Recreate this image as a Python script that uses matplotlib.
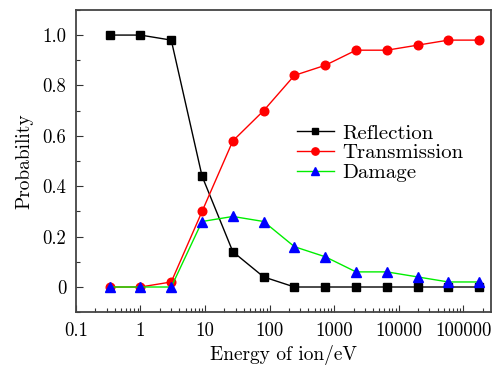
import matplotlib
matplotlib.use("Agg")
import matplotlib.pyplot as plt
from matplotlib.ticker import FixedLocator, LogLocator, MultipleLocator, NullFormatter

plt.rcParams['font.family'] = ['cmr10', 'DejaVu Serif']
plt.rcParams['axes.formatter.use_mathtext'] = True

# Ion energies (eV), factor-of-3 steps
energy = [0.333, 1, 3, 9, 27, 81, 243, 729, 2187, 6561, 19683, 59049, 177147]
reflection = [1.0, 1.0, 0.98, 0.44, 0.14, 0.04, 0, 0, 0, 0, 0, 0, 0]
transmission = [0, 0, 0.02, 0.30, 0.58, 0.70, 0.84, 0.88, 0.94, 0.94, 0.96, 0.98, 0.98]
damage = [0, 0, 0, 0.26, 0.28, 0.26, 0.16, 0.12, 0.06, 0.06, 0.04, 0.02, 0.02]

xticks = [0.1, 1, 10, 100, 1000, 10000, 100000]
xtick_labels = ['0.1', '1', '10', '100', '1000', '10000', '100000']
yticks = [0, 0.2, 0.4, 0.6, 0.8, 1.0]
ytick_labels = ['0', '0.2', '0.4', '0.6', '0.8', '1.0']

fig = plt.figure(figsize=(4.93, 3.66), dpi=100)
ax = fig.add_axes([0.154, 0.147, 0.842, 0.826])

ax.plot(energy, reflection, color='black', lw=1, marker='s', ms=5.2,
        mfc='black', mec='black', label='Reflection')
ax.plot(energy, transmission, color='red', lw=1, marker='o', ms=6.2,
        mfc='red', mec='red', label='Transmission')
ax.plot(energy, damage, color='#00ee00', lw=1, marker='^', ms=6.8,
        mfc='blue', mec='blue', label='Damage')

ax.set_xscale('log')
ax.set_xlim(0.1, 2.7e5)
ax.set_ylim(-0.1, 1.1)

ax.xaxis.set_major_locator(FixedLocator(xticks))
ax.set_xticklabels(xtick_labels)
ax.xaxis.set_minor_locator(LogLocator(base=10, subs=range(2, 10), numticks=20))
ax.xaxis.set_minor_formatter(NullFormatter())
ax.set_yticks(yticks)
ax.set_yticklabels(ytick_labels)
ax.yaxis.set_minor_locator(MultipleLocator(0.1))

ax.tick_params(which='major', direction='in', length=5, width=0.8, labelsize=13.5,
               colors='#333333', labelcolor='black', pad=7)
ax.tick_params(which='minor', direction='in', length=3, width=0.8, colors='#333333')
ax.tick_params(top=False, right=False, which='both')

for side in ax.spines.values():
    side.set_color('#444444')
    side.set_linewidth(1.3)

ax.set_xlabel('Energy of ion/eV', fontsize=14, labelpad=4)
ax.set_ylabel('Probability', fontsize=14, labelpad=6)

ax.legend(loc='upper left', bbox_to_anchor=(0.513, 0.65), frameon=False, fontsize=15,
          handlelength=1.75, handletextpad=0.4, labelspacing=0.05, borderaxespad=0,
          markerscale=0.85)

fig.savefig('out.png', dpi=100)
